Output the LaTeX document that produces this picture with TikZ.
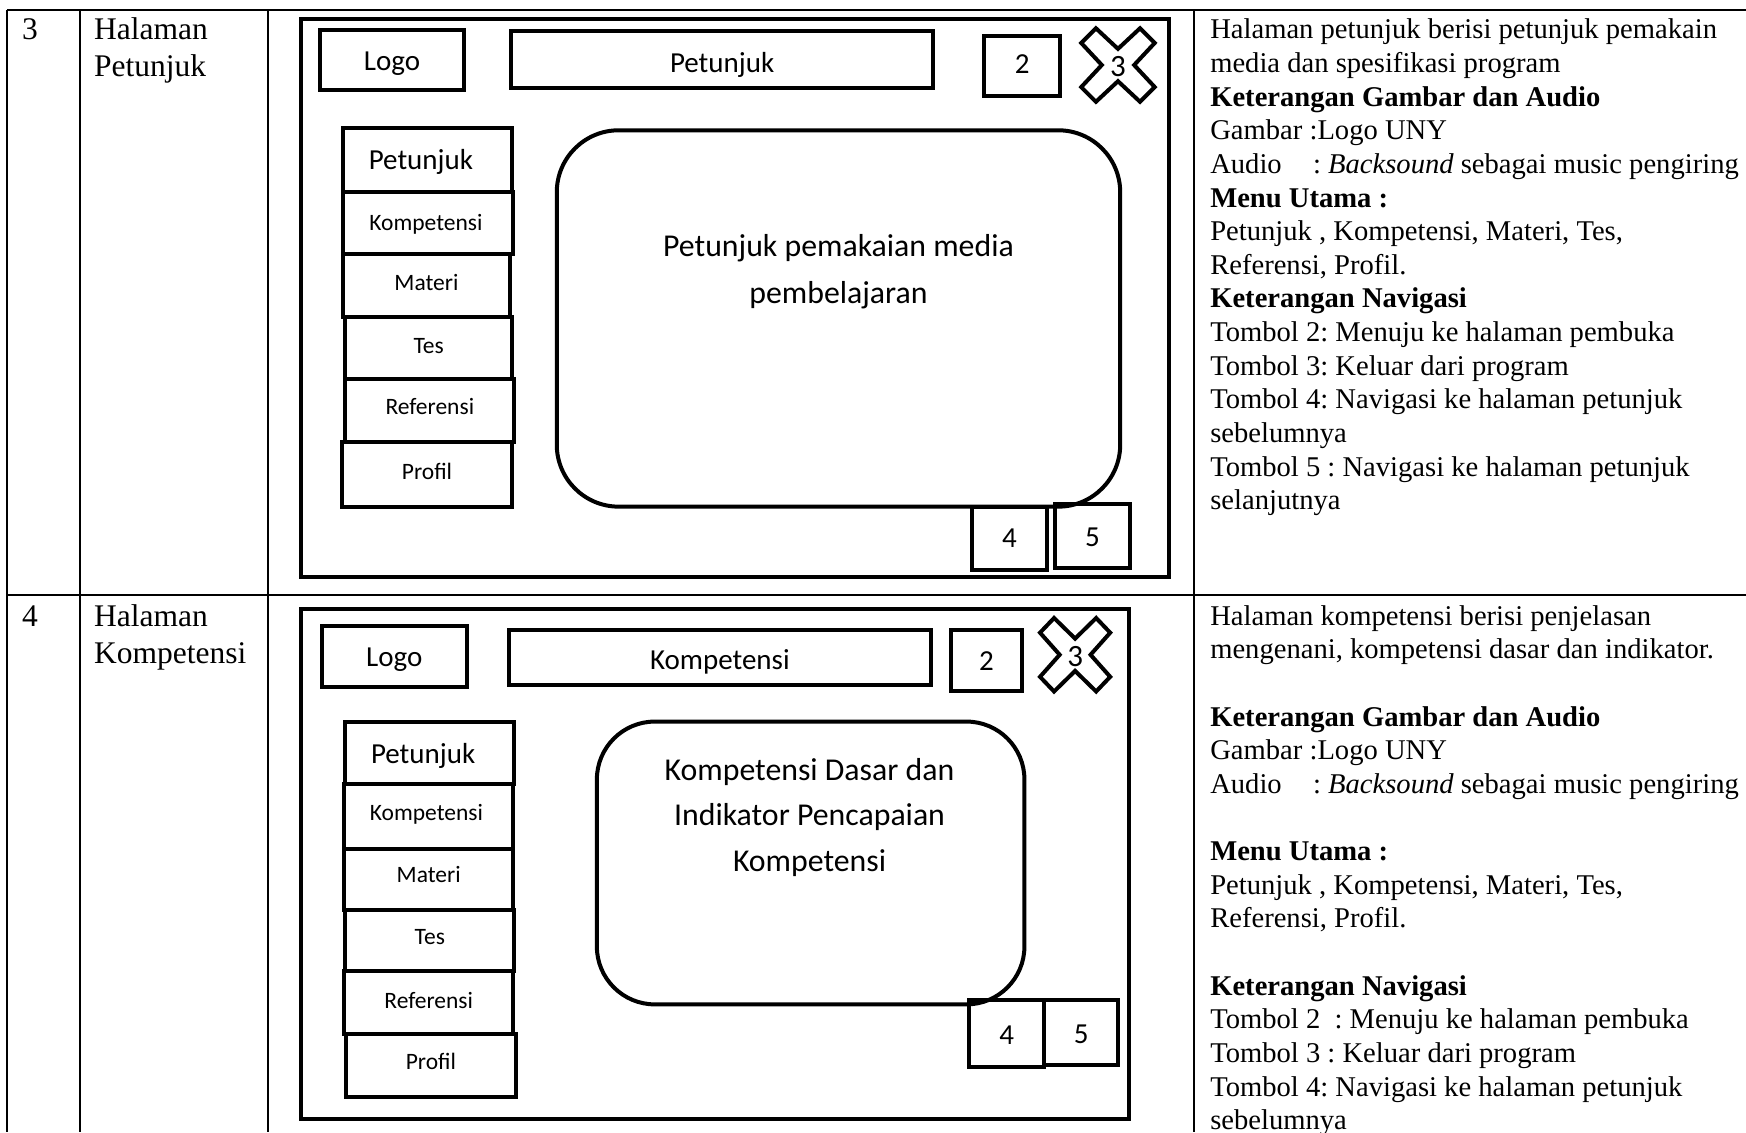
\documentclass[tikz,border=0pt]{standalone}
\usepackage{fontspec}
\setmainfont{Liberation Serif}
\newfontfamily\calfnt{Carlito}
\frenchspacing
\newcommand\rfont{\fontsize{28.6}{33.6}\selectfont}
\newcommand\lfont{\fontsize{31.5}{36}\selectfont}
\newcommand\bigf{\calfnt\fontsize{29}{34}\selectfont}
\newcommand\smlf{\calfnt\fontsize{23.5}{28}\selectfont}
\newcommand\ubox[9]{\node[mb,minimum width={(#4-#2)*1.1135pt},minimum height={(#5-#3)*1.1135pt}] (#1) at ({(#2+#4)/2},{(#3+#5)/2}) {};
  \node[ct,font=#7] (#1t) at ({(#2+#4)/2+#8},{(#3+#5)/2+#9}) {#6};}
\newcommand\xshape[4]{\draw[xs,shift={(#1,#2)},x=#3*1.1135pt,y=-#4*1.1135pt]
  (-0.6,-1) -- (0,-0.44) -- (0.6,-1) -- (1,-0.6) -- (0.44,0) -- (1,0.6) -- (0.6,1) -- (0,0.44) -- (-0.6,1) -- (-1,0.6) -- (-0.44,0) -- (-1,-0.6) -- cycle;}
\begin{document}
\begin{tikzpicture}[x=1.1135pt,y=-1.1135pt,
  mb/.style={draw,line width=4pt,inner sep=0pt,rectangle},
  xs/.style={draw,line width=4pt,line join=miter},
  tl/.style={line width=2pt},
  rt/.style={anchor=base west,inner sep=0pt,font=\rfont},
  lt/.style={anchor=base west,inner sep=0pt,font=\lfont},
  ct/.style={inner sep=0pt},
  main/.style={inner sep=0pt,font=\calfnt\fontsize{31.8}{36}\selectfont}]
\useasboundingbox (0,0) rectangle (1568,1017);
% table
\draw[tl] (6.6,9) -- (1568,9);
\draw[tl] (6.6,9) -- (6.6,1017);
\draw[tl] (71.4,9) -- (71.4,1017);
\draw[tl] (240.7,9) -- (240.7,1017);
\draw[tl] (1072.5,9) -- (1072.5,1017);
\draw[tl] (6.6,534.4) -- (1568,534.4);
% row 1 left cells
\node[lt] (n3) at (19.8,35.5) {3};
\node[lt] (h3a) at (84.4,35.5) {Halaman};
\node[lt] (h3b) at (84.4,68.5) {Petunjuk};
\node[lt] (n4) at (19.8,562.5) {4};
\node[lt] (h4a) at (84.4,562.5) {Halaman};
\node[lt] (h4b) at (84.4,595.5) {Kompetensi};
% mockup 1
\node[mb,minimum width={(1050-270)*1.1135pt},minimum height={(518-17)*1.1135pt}] (fa) at ({(270+1050)/2},{(17+518)/2}) {};
\ubox{logoa}{287}{27}{417}{81}{Logo}{\bigf}{0}{3}
\ubox{titlea}{459}{28}{838}{79}{Petunjuk}{\bigf}{0}{5}
\ubox{twoa}{884}{32}{952}{86}{2}{\bigf}{0}{-1}
\xshape{1004}{58.4}{33}{33}
\node[ct,font=\calfnt\fontsize{31}{34}\selectfont] (threea) at (1004,60) {3};
\ubox{m1a}{308}{115}{460}{172}{Petunjuk}{\bigf}{-6}{2}
\ubox{m2a}{308}{172}{461}{228}{Kompetensi}{\smlf}{-2}{1}
\ubox{m3a}{308}{228}{458}{285}{Materi}{\smlf}{0}{-3}
\ubox{m4a}{310}{285}{460}{340}{Tes}{\smlf}{0}{-2}
\ubox{m5a}{310}{340}{462}{397}{Referensi}{\smlf}{0}{-3}
\ubox{m6a}{307}{397}{460}{455}{Profil}{\smlf}{0}{-3}
\node[mb,rounded corners=62pt,minimum width={(1006-500)*1.1135pt},minimum height={(455-117)*1.1135pt}] (ra) at ({(500+1006)/2},{(117+455)/2}) {};
\node[main] (ta1) at (753,223) {Petunjuk pemakaian media};
\node[main] (ta2) at (753,265) {pembelajaran};
\ubox{foura}{873}{455}{940}{512}{4}{\bigf}{0}{0}
\ubox{fivea}{947}{453}{1015}{510}{5}{\bigf}{0}{1}
% mockup 2
\node[mb,minimum width={(1014-270)*1.1135pt},minimum height={(1005-547)*1.1135pt}] (fb) at ({(270+1014)/2},{(547+1005)/2}) {};
\ubox{logob}{289}{562}{419}{617}{Logo}{\bigf}{0}{3}
\ubox{titleb}{457}{566}{836}{615}{Kompetensi}{\bigf}{0}{4}
\ubox{twob}{854}{566}{918}{621}{2}{\bigf}{0}{0}
\xshape{965.5}{588}{31.5}{33}
\node[ct,font=\calfnt\fontsize{31}{34}\selectfont] (threeb) at (965.5,589.5) {3};
\ubox{m1b}{310}{648}{462}{704}{Petunjuk}{\bigf}{-6}{3}
\ubox{m2b}{309}{704}{461}{762}{Kompetensi}{\smlf}{-2}{-2}
\ubox{m3b}{309}{762}{461}{817}{Materi}{\smlf}{0}{-4}
\ubox{m4b}{310}{817}{462}{872}{Tes}{\smlf}{0}{-3}
\ubox{m5b}{309}{872}{461}{929}{Referensi}{\smlf}{0}{-2}
\ubox{m6b}{311}{929}{463}{985}{Profil}{\smlf}{0}{-4}
\node[mb,rounded corners=58pt,minimum width={(920-536)*1.1135pt},minimum height={(902-648)*1.1135pt}] (rb) at ({(536+920)/2},{(648+902)/2}) {};
\node[main] (tb1) at (727,693) {Kompetensi Dasar dan};
\node[main] (tb2) at (727,734) {Indikator Pencapaian};
\node[main] (tb3) at (727,775) {Kompetensi};
\ubox{fourb}{870}{898}{938}{958}{4}{\bigf}{0}{2}
\ubox{fiveb}{938}{898}{1004}{956}{5}{\bigf}{0}{2}
% right column row 1
\node[rt] (a0) at (1086.7,35) {Halaman petunjuk berisi petunjuk pemakain};
\node[rt] (a1) at (1086.7,65.2) {media dan spesifikasi program};
\node[rt] (a2) at (1086.7,95.4) {\textbf{Keterangan Gambar dan Audio}};
\node[rt] (a3) at (1086.7,125.6) {Gambar :Logo UNY};
\node[rt] (a4) at (1086.7,155.8) {Audio};
\node[rt] (a4b) at (1179,155.8) {: \textit{Backsound} sebagai music pengiring};
\node[rt] (a5) at (1086.7,186) {\textbf{Menu Utama :}};
\node[rt] (a6) at (1086.7,216.2) {Petunjuk , Kompetensi, Materi, Tes,};
\node[rt] (a7) at (1086.7,246.4) {Referensi, Profil.};
\node[rt] (a8) at (1086.7,276.6) {\textbf{Keterangan Navigasi}};
\node[rt] (a9) at (1086.7,306.8) {Tombol 2: Menuju ke halaman pembuka};
\node[rt] (a10) at (1086.7,337) {Tombol 3: Keluar dari program};
\node[rt] (a11) at (1086.7,367.2) {Tombol 4: Navigasi ke halaman petunjuk};
\node[rt] (a12) at (1086.7,397.4) {sebelumnya};
\node[rt] (a13) at (1086.7,427.6) {Tombol 5 : Navigasi ke halaman petunjuk};
\node[rt] (a14) at (1086.7,457.8) {selanjutnya};
% right column row 2
\node[rt] (b0) at (1086.7,561.5) {Halaman kompetensi berisi penjelasan};
\node[rt] (b1) at (1086.7,591.7) {mengenani, kompetensi dasar dan indikator.};
\node[rt] (b3) at (1086.7,652.1) {\textbf{Keterangan Gambar dan Audio}};
\node[rt] (b4) at (1086.7,682.3) {Gambar :Logo UNY};
\node[rt] (b5) at (1086.7,712.5) {Audio};
\node[rt] (b5b) at (1179,712.5) {: \textit{Backsound} sebagai music pengiring};
\node[rt] (b7) at (1086.7,772.9) {\textbf{Menu Utama :}};
\node[rt] (b8) at (1086.7,803.1) {Petunjuk , Kompetensi, Materi, Tes,};
\node[rt] (b9) at (1086.7,833.3) {Referensi, Profil.};
\node[rt] (b11) at (1086.7,893.7) {\textbf{Keterangan Navigasi}};
\node[rt] (b12) at (1086.7,923.9) {Tombol 2\ \ : Menuju ke halaman pembuka};
\node[rt] (b13) at (1086.7,954.1) {Tombol 3 : Keluar dari program};
\node[rt] (b14) at (1086.7,984.3) {Tombol 4: Navigasi ke halaman petunjuk};
\node[rt] (b15) at (1086.7,1014.5) {sebelumnya};
\end{tikzpicture}
\end{document}
